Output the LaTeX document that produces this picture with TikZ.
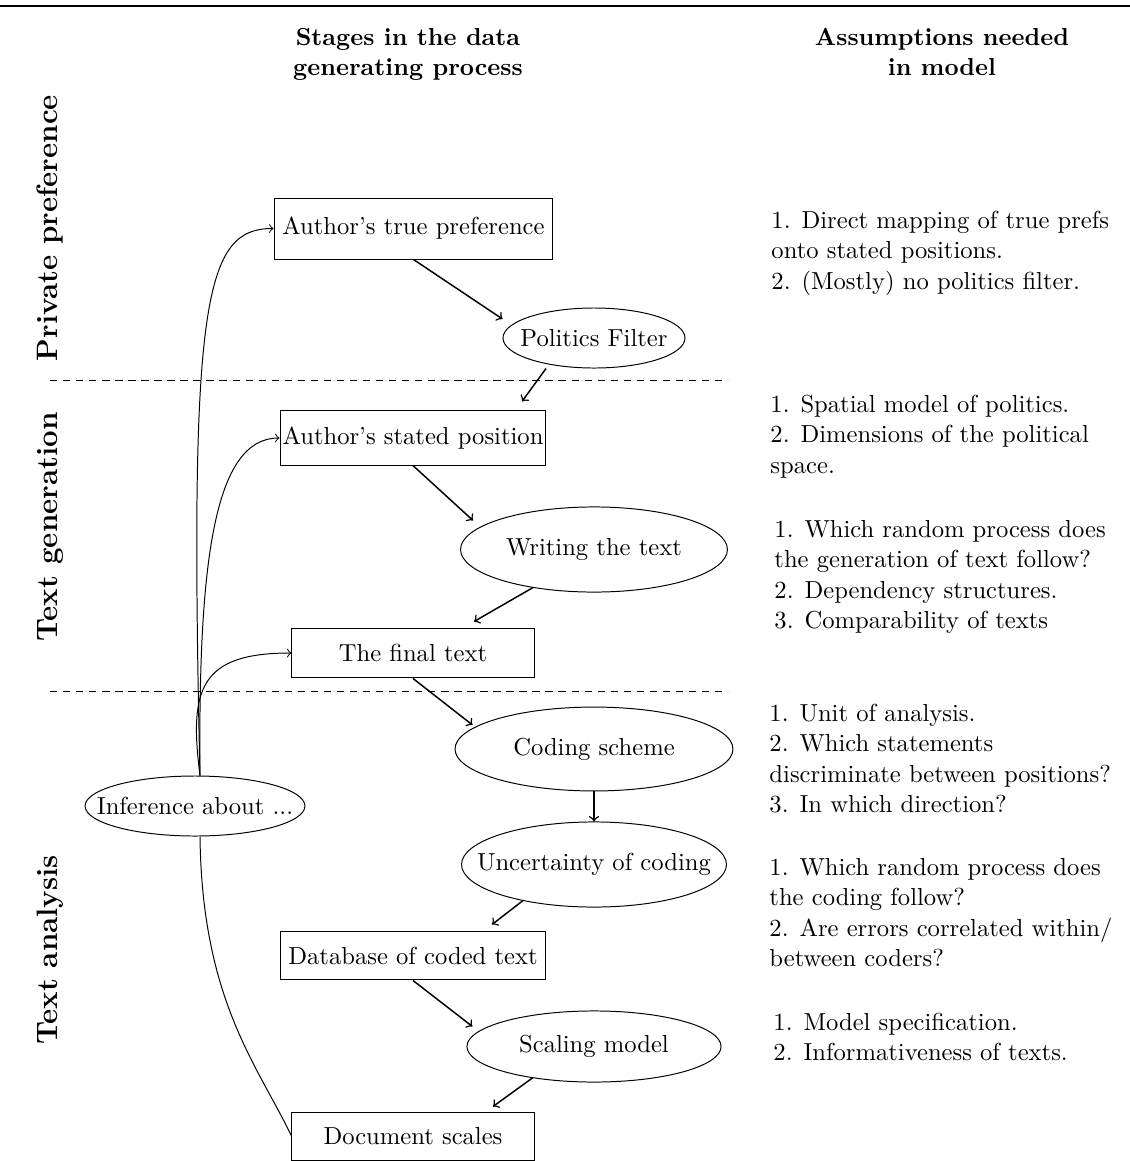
\documentclass[tikz,border=0pt]{standalone}
\usetikzlibrary{shapes.geometric,calc}
\begin{document}
\begin{tikzpicture}[x=0.4065pt,y=-0.4065pt,
  box/.style={draw,rectangle,inner sep=0pt,line width=0.4pt},
  oval/.style={draw,ellipse,inner sep=0pt,line width=0.4pt},
  flow/.style={->,semithick},
  infer/.style={->,line width=0.4pt},
  plainline/.style={line width=0.4pt},
  sep/.style={dash pattern=on 3pt off 2.3pt,line width=0.4pt},
  stage/.style={font=\large\bfseries,rotate=90,anchor=base,inner sep=0pt},
  head/.style={font=\fontsize{10}{12.4}\selectfont\bfseries,align=center,anchor=north,inner sep=0pt},
  note/.style={font=\fontsize{10}{12.4}\selectfont,align=left,anchor=north west,inner sep=0pt}]
\useasboundingbox (0,0) rectangle (1130,1161);
% top rule
\coordinate (ruleL) at (0,6);
\coordinate (ruleR) at (1130,6);
\draw[line width=0.8pt] (ruleL) -- (ruleR);
% headers
\node[head] (h1) at (408,23.6) {\strut Stages in the data\\generating process};
\node[head] (h2) at (942,23.6) {\strut Assumptions needed\\in model};
% stage labels
\node[stage] (pp) at (57,228) {Private preference};
\node[stage] (tg) at (57,527) {Text generation};
\node[stage] (ta) at (57,950) {Text analysis};
% separators
\coordinate (d1a) at (50,380); \coordinate (d1b) at (728,380);
\coordinate (d2a) at (50,691); \coordinate (d2b) at (728,691);
\draw[sep] (d1a) -- (d1b);
\draw[sep] (d2a) -- (d2b);
% process nodes
\node[box,minimum width=113.4pt,minimum height=24.8pt] (true) at (413.5,228.5) {\makebox[0pt]{Author’s true preference}};
\node[oval,minimum width=74pt,minimum height=24.4pt] (pf) at (594,338) {\makebox[0pt]{Politics Filter}};
\node[box,minimum width=108.1pt,minimum height=22pt] (stated) at (413,438) {\makebox[0pt]{Author’s stated position}};
\node[oval,minimum width=108.5pt,minimum height=34.6pt] (writing) at (594,549.5) {\makebox[0pt]{Writing the text}};
\node[box,minimum width=98.4pt,minimum height=20.3pt] (final) at (413,653) {\makebox[0pt]{The final text}};
\node[oval,minimum width=113pt,minimum height=34.1pt] (coding) at (594,749) {\makebox[0pt]{Coding scheme}};
\node[oval,minimum width=107.7pt,minimum height=34.6pt] (uncert) at (594,864.5) {\makebox[0pt]{Uncertainty of coding}};
\node[box,minimum width=108.1pt,minimum height=19.9pt] (database) at (413,955.5) {\makebox[0pt]{Database of coded text}};
\node[oval,minimum width=103.3pt,minimum height=28.9pt] (scaling) at (594,1046.5) {\makebox[0pt]{Scaling model}};
\node[box,minimum width=98.4pt,minimum height=19.5pt] (document) at (413,1136) {\makebox[0pt]{Document scales}};
\node[oval,minimum width=89.4pt,minimum height=24.4pt] (inf) at (195,806) {\makebox[0pt]{Inference about ...}};
% process arrows
\draw[flow] (true.south) -- ($(pf.west)+(0,-19)$);
\draw[flow] ($(pf.south)+(-48,0)$) -- ($(stated.north)+(109,-9)$);
\draw[flow] (stated.south) -- ($(writing.west)+(13,-29)$);
\draw[flow] ($(writing.south)+(-61,-5)$) -- ($(final.north)+(61,-6)$);
\draw[flow] (final.south) -- ($(coding.west)+(18,-24)$);
\draw[flow] (coding.south) -- (uncert.north);
\draw[flow] ($(uncert.south)+(-71,-7)$) -- ($(database.north)+(79,-6)$);
\draw[flow] (database.south) -- ($(scaling.west)+(6,-20)$);
\draw[flow] ($(scaling.south)+(-61,-5)$) -- ($(document.north)+(80,-5)$);
% inference curves
\draw[infer] ($(inf.north)+(5,0)$) .. controls ($(inf.north)+(-6,-476)$) and ($(true.west)+(-69,0)$) .. (true.west);
\draw[infer] ($(inf.north)+(5,0)$) .. controls ($(inf.north)+(3,-216)$) and ($(stated.west)+(-65,0)$) .. (stated.west);
\draw[infer] ($(inf.north)+(5,0)$) .. controls ($(inf.north)+(-6,-86)$) and ($(final.west)+(-92,0)$) .. (final.west);
\draw[plainline] ($(inf.south)+(5,0)$) .. controls ($(inf.south)+(7,164)$) and ($(document.west)+(-34,-71)$) .. (document.west);
% assumptions
\node[note] (n1) at (771,206.6) {\strut 1. Direct mapping of true prefs\\onto stated positions.\\2. (Mostly) no politics filter.};
\node[note] (n2) at (770,390.6) {\strut 1. Spatial model of politics.\\2. Dimensions of the political\\space.};
\node[note] (n3) at (774,515.6) {\strut 1. Which random process does\\the generation of text follow?\\2. Dependency structures.\\3. Comparability of texts};
\node[note] (n4) at (769,699.6) {\strut 1. Unit of analysis.\\2. Which statements\\discriminate between positions?\\3. In which direction?};
\node[note] (n5) at (769,853.6) {\strut 1. Which random process does\\the coding follow?\\2. Are errors correlated within/\\between coders?};
\node[note] (n6) at (773,1008.6) {\strut 1. Model specification.\\2. Informativeness of texts.};
\end{tikzpicture}
\end{document}
